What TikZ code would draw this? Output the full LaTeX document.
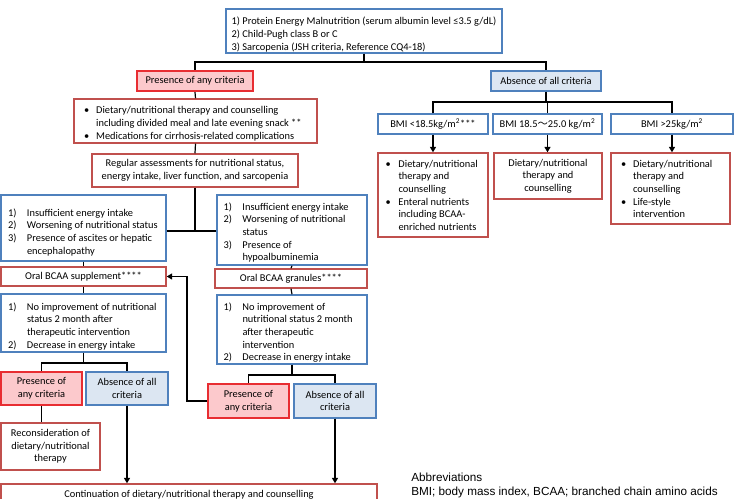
\documentclass[tikz,border=0pt]{standalone}
\usepackage{fontspec}
\setmainfont{Carlito}
\newfontfamily\cjk{Noto Sans CJK JP}
\newfontfamily\abbrfont{Liberation Sans}
\usepackage{array}
\usepackage{tikz}
\usetikzlibrary{arrows.meta}

\definecolor{blueline}{RGB}{79,129,189}
\definecolor{redline}{RGB}{192,80,77}
\definecolor{brightred}{RGB}{232,45,50}
\definecolor{pinkfill}{RGB}{252,201,204}
\definecolor{bluefill}{RGB}{220,230,242}

% numbered / bulleted lists with a hanging indent, optionally set lower in the box
\newcommand{\numlist}[4][0pt]{%
  \raisebox{-#1}[\height][\depth]{%
  \begin{tabular}{@{}p{#2}@{}>{\raggedright\arraybackslash}p{#3}@{}}#4\end{tabular}}}

\tikzset{
  boxsize/.style 2 args={minimum width=#1*0.75pt, minimum height=#2*0.75pt},
  plainbox/.style={draw, line width=1.1pt, inner sep=0pt, align=center,
    font=\fontsize{7.8}{9.5}\selectfont},
  bluebox/.style={plainbox, draw=blueline},
  redbox/.style={plainbox, draw=redline},
  yesbox/.style={plainbox, draw=brightred, fill=pinkfill, line width=1.6pt},
  nobox/.style={plainbox, draw=blueline, fill=bluefill},
  link/.style={line width=0.9pt},
  arr/.style={link, -{Triangle[length=4pt,width=4.5pt]}},
}

\begin{document}
\begin{tikzpicture}[x=0.75pt, y=-0.75pt]
  \useasboundingbox (0,0) rectangle (736,499);
  \clip (0,0) rectangle (736,499);

  % criteria at the top
  \node[bluebox, boxsize={276}{44}, font=\fontsize{7.8}{9.8}\selectfont] (crit) at (364,31)
    {\raisebox{-2.6pt}[\height][\depth]{\begin{tabular}{@{}l@{}}1) Protein Energy Malnutrition (serum albumin level ≤3.5 g/dL)\\
     2) Child-Pugh class B or C\\3) Sarcopenia (JSH criteria, Reference CQ4-18)\end{tabular}}};
  \node[yesbox, boxsize={116}{20}] (pres) at (195,81) {Presence of any criteria};
  \node[nobox, boxsize={110}{20}] (abs) at (546,81) {Absence of all criteria};

  % left branch
  \node[redbox, boxsize={243}{44}] (diet) at (195.5,121)
    {\numlist[2.3pt]{9pt}{158pt}{\textbullet & Dietary/nutritional therapy and counselling\newline including divided meal and late evening snack **\\
     \textbullet & Medications for cirrhosis-related complications}};
  \node[redbox, boxsize={206}{33}] (assess) at (195,170.5)
    {Regular assessments for nutritional status,\\energy intake, liver function, and sarcopenia};
  \node[bluebox, boxsize={165}{66}] (lcrit) at (83.5,228)
    {\numlist[3.4pt]{14.25pt}{99pt}{1) & Insufficient energy intake\\ 2) & Worsening of nutritional status\\
     3) & Presence of ascites or hepatic\newline encephalopathy}};
  \node[bluebox, boxsize={150}{70}] (rcrit) at (292,230)
    {\numlist[2.3pt]{14.25pt}{88.5pt}{1) & Insufficient energy intake\\ 2) & Worsening of nutritional\newline status\\
     3) & Presence of\newline hypoalbuminemia}};
  \node[redbox, boxsize={165}{19}] (supp) at (83.5,276.5) {Oral BCAA supplement****};
  \node[redbox, boxsize={152}{19}] (gran) at (291,278.5) {Oral BCAA granules****};
  \node[bluebox, boxsize={165}{58}] (lnoimp) at (83.5,323)
    {\numlist[2.8pt]{14.25pt}{99pt}{1) & No improvement of nutritional\newline status 2 month after\newline therapeutic intervention\\
     2) & Decrease in energy intake}};
  \node[bluebox, boxsize={150}{69}] (rnoimp) at (292,329.5)
    {\numlist[2.6pt]{14.25pt}{88.5pt}{1) & No improvement of\newline nutritional status 2 month\newline after therapeutic\newline intervention\\
     2) & Decrease in energy intake}};
  \node[yesbox, boxsize={81}{33}] (lyes) at (41.5,388.5) {Presence of\\any criteria};
  \node[nobox, boxsize={82}{33}] (lno) at (127,388.5) {Absence of all\\criteria};
  \node[yesbox, boxsize={81}{34}] (ryes) at (248.5,401) {Presence of\\any criteria};
  \node[nobox, boxsize={82}{34}] (rno) at (335,401) {Absence of all\\criteria};
  \node[redbox, boxsize={99}{47}] (recon) at (50.5,446.5) {Reconsideration of\\dietary/nutritional\\therapy};
  \node[redbox, boxsize={376}{22}] (cont) at (189,495) {Continuation of dietary/nutritional therapy and counselling};

  % right branch
  \node[bluebox, boxsize={110}{20}] (bmilow) at (433,124) {BMI <18.5kg/m\textsuperscript{2}***};
  \node[bluebox, boxsize={109}{20}] (bmimid) at (547.5,124) {BMI 18.5{\cjk ～}25.0 kg/m\textsuperscript{2}};
  \node[bluebox, boxsize={122}{20}] (bmihigh) at (672,124) {BMI >25kg/m\textsuperscript{2}};
  \node[redbox, boxsize={110}{84}] (dietlow) at (433,195)
    {\numlist[1pt]{9.75pt}{61.5pt}{\textbullet & Dietary/nutritional\newline therapy and\newline counselling\\
     \textbullet & Enteral nutrients\newline including BCAA-\newline enriched nutrients}};
  \node[redbox, boxsize={108}{46}] (dietmid) at (548,176) {Dietary/nutritional\\therapy and\\counselling};
  \node[redbox, boxsize={119}{71}] (diethigh) at (670.5,188.5)
    {\numlist[1pt]{9pt}{65pt}{\textbullet & Dietary/nutritional\newline therapy and\newline counselling\\
     \textbullet & Life-style\newline intervention}};

  \node[anchor=north west, inner sep=0pt, align=left, font=\abbrfont\fontsize{8.8}{10}\selectfont] (abbr) at (411,473)
    {Abbreviations\\BMI; body mass index, BCAA; branched chain amino acids};

  % connectors
  \coordinate (topsplit) at (364,62);
  \draw[link] (crit.south) -- (topsplit);
  \draw[link] (pres.north) |- (topsplit) -| (abs.north);
  \draw[link] (pres.south) -- (diet.north);
  \draw[link] (diet.south) -- (assess.north);
  \coordinate (midsplit) at (195,231);
  \draw[link] (assess.south) -- (midsplit);
  \draw[link] (lcrit.east |- midsplit) -- (rcrit.west |- midsplit);
  \draw[link] (lcrit.south) -- (supp.north);
  \draw[link] (supp.south) -- (lnoimp.north);
  \draw[link] (rcrit.south) -- (gran.north);
  \draw[link] (gran.south) -- (rnoimp.north);
  \coordinate (lsplit) at (83.5,363);
  \draw[link] (lnoimp.south) -- (lsplit);
  \draw[link] (lyes.north) |- (lsplit) -| (lno.north);
  \coordinate (rsplit) at (292,375);
  \draw[link] (rnoimp.south) -- (rsplit);
  \draw[link] (ryes.north) |- (rsplit) -| (rno.north);
  \draw[link] (lyes.south) -- (recon.north -| lyes.south);
  \coordinate (back) at (187,401);
  \draw[arr] (ryes.west) -- (back) |- (supp.east);
  \draw[arr] (lno.south) -- (lno.south |- cont.north);
  \draw[arr] (rno.south) -- (rno.south |- cont.north);

  \coordinate (bmisplit) at (546,102);
  \draw[link] (abs.south) -- (bmisplit);
  \draw[link] (bmilow.north) |- (bmisplit) -| (bmihigh.north);
  \draw[link] (bmimid.north |- bmisplit) -- (bmimid.north);
  \draw[arr] (bmilow.south) -- (dietlow.north);
  \draw[arr] (bmimid.south) -- (dietmid.north -| bmimid.south);
  \draw[arr] (bmihigh.south) -- (diethigh.north -| bmihigh.south);
\end{tikzpicture}
\end{document}
